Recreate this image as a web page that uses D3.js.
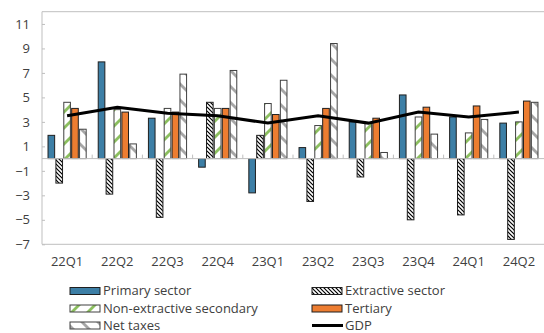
<!DOCTYPE html>
<html><head><meta charset="utf-8">
<script src="https://cdn.jsdelivr.net/npm/d3@7"></script>
<style>body{margin:0;background:#fff}svg{display:block}</style>
</head><body><svg id="c" width="544" height="333"></svg>
<script>
const categories = ["22Q1","22Q2","22Q3","22Q4","23Q1","23Q2","23Q3","23Q4","24Q1","24Q2"];
const primary       = [1.9, 7.9, 3.3, -0.7, -2.8, 0.9, 3.0, 5.2, 3.4, 2.9];
const extractive    = [-2.0, -2.9, -4.8, 4.6, 1.9, -3.5, -1.5, -5.0, -4.6, -6.6];
const nonExtractive = [4.6, 4.0, 4.1, 4.1, 4.5, 2.7, 2.9, 3.4, 2.1, 3.0];
const tertiary      = [4.1, 3.8, 3.8, 4.1, 3.6, 4.1, 3.3, 4.2, 4.3, 4.7];
const netTaxes      = [2.4, 1.2, 6.9, 7.2, 6.4, 9.4, 0.5, 2.0, 3.2, 4.6];
const gdp           = [3.5, 4.2, 3.7, 3.5, 2.9, 3.5, 2.9, 3.8, 3.4, 3.8];
const yTicks = [-7,-5,-3,-1,1,3,5,7,9,11];
const seriesNames = ["Primary sector","Extractive sector","Non-extractive secondary","Tertiary","Net taxes"];
const seriesData = [primary, extractive, nonExtractive, tertiary, netTaxes];

(function(){
const svg = d3.select("#c");
const mLeft = 42, mRight = 544, mTop = 11.7, mBottom = 244.3;
const y = d3.scaleLinear().domain([-7, 12]).range([mBottom, mTop]);
const x0 = d3.scaleBand().domain(categories).range([mLeft, mRight]).padding(0);
const bw = x0.bandwidth();
const x1 = d3.scaleBand().domain(seriesNames).range([bw*0.12, bw*0.88]).paddingInner(0.16);

const defs = svg.append("defs");
function pat(id, size, bg, color, w, d) {
  const p = defs.append("pattern").attr("id", id).attr("patternUnits","userSpaceOnUse")
    .attr("width", size).attr("height", size);
  p.append("rect").attr("width", size).attr("height", size).attr("fill", bg);
  d.forEach(s => p.append("path").attr("d", s).attr("stroke", color).attr("stroke-width", w).attr("fill","none"));
}
pat("pExt", 4, "#fff", "#000", 1.2, ["M0,0 L4,4","M-1,3 L1,5","M3,-1 L5,1"]);
pat("pNon", 16, "#fff", "#8cbf5f", 2.8, ["M0,16 L16,0","M-4,4 L4,-4","M12,20 L20,12"]);
pat("pTax", 16, "#fff", "#a6a6a6", 2.8, ["M0,0 L16,16","M-4,12 L4,20","M12,-4 L20,4"]);

const fills = ["#3d7fa6", "url(#pExt)", "url(#pNon)", "#ed7d31", "url(#pTax)"];
const strokes = ["#1f1f1f", "#1f1f1f", "#404040", "#1f1f1f", "#404040"];

svg.append("line").attr("x1", mLeft).attr("x2", mRight).attr("y1", mTop).attr("y2", mTop).attr("stroke", "#bfbfbf");
svg.append("line").attr("x1", mLeft).attr("x2", mRight).attr("y1", mBottom).attr("y2", mBottom).attr("stroke", "#bfbfbf");
svg.append("line").attr("x1", mLeft).attr("x2", mLeft).attr("y1", mTop).attr("y2", mBottom).attr("stroke", "#bfbfbf");

const yAxis = d3.axisLeft(y).tickValues(yTicks).tickSize(-3).tickPadding(12).tickFormat(d3.format("d"));
const ya = svg.append("g").attr("transform", `translate(${mLeft},0)`).call(yAxis);
ya.select(".domain").remove();
ya.selectAll("line").attr("stroke", "#bfbfbf");
ya.selectAll("text").attr("font-family", "Open Sans, sans-serif").attr("font-size", 13).attr("fill", "#404040");

const g = svg.append("g");
categories.forEach((c, i) => {
  seriesNames.forEach((s, k) => {
    const v = seriesData[k][i];
    g.append("rect")
      .attr("x", x0(c) + x1(s))
      .attr("y", y(Math.max(0, v)))
      .attr("width", x1.bandwidth())
      .attr("height", Math.abs(y(v) - y(0)))
      .attr("fill", fills[k]).attr("stroke", strokes[k]).attr("stroke-width", 1);
  });
});

svg.append("line").attr("x1", mLeft).attr("x2", mRight).attr("y1", y(0)).attr("y2", y(0)).attr("stroke", "#bfbfbf");
categories.forEach((c, i) => {
  if (i > 0) svg.append("line").attr("x1", x0(c)).attr("x2", x0(c)).attr("y1", y(0)).attr("y2", y(0) - 4).attr("stroke", "#bfbfbf");
});
const xa = svg.append("g").attr("transform", `translate(0,${mBottom})`).call(d3.axisBottom(x0).tickSize(0).tickPadding(12));
xa.select(".domain").remove();
xa.selectAll("text").attr("font-family", "Open Sans, sans-serif").attr("font-size", 13).attr("fill", "#404040");

const line = d3.line().x((d, i) => x0(categories[i]) + bw/2).y(d => y(d));
svg.append("path").datum(gdp).attr("d", line).attr("fill", "none").attr("stroke", "#000").attr("stroke-width", 3);

const legend = [
  {name: "Primary sector", k: 0, col: 0, row: 0},
  {name: "Extractive sector", k: 1, col: 1, row: 0},
  {name: "Non-extractive secondary", k: 2, col: 0, row: 1},
  {name: "Tertiary", k: 3, col: 1, row: 1},
  {name: "Net taxes", k: 4, col: 0, row: 2},
  {name: "GDP", k: -1, col: 1, row: 2}
];
const colX = [70, 312], rowY = [291, 308.5, 325.5];
legend.forEach(l => {
  const lx = colX[l.col], ly = rowY[l.row];
  if (l.k >= 0) {
    svg.append("rect").attr("x", lx).attr("y", ly - 3.5).attr("width", 30).attr("height", 7)
      .attr("fill", fills[l.k]).attr("stroke", strokes[l.k]).attr("stroke-width", 1);
  } else {
    svg.append("line").attr("x1", lx).attr("x2", lx + 31).attr("y1", ly).attr("y2", ly).attr("stroke", "#000").attr("stroke-width", 3);
  }
  svg.append("text").attr("x", lx + 33).attr("y", ly).attr("dy", "0.34em")
    .attr("font-family", "Open Sans, sans-serif").attr("font-size", 13).attr("fill", "#404040").text(l.name);
});
})();
</script></body></html>
